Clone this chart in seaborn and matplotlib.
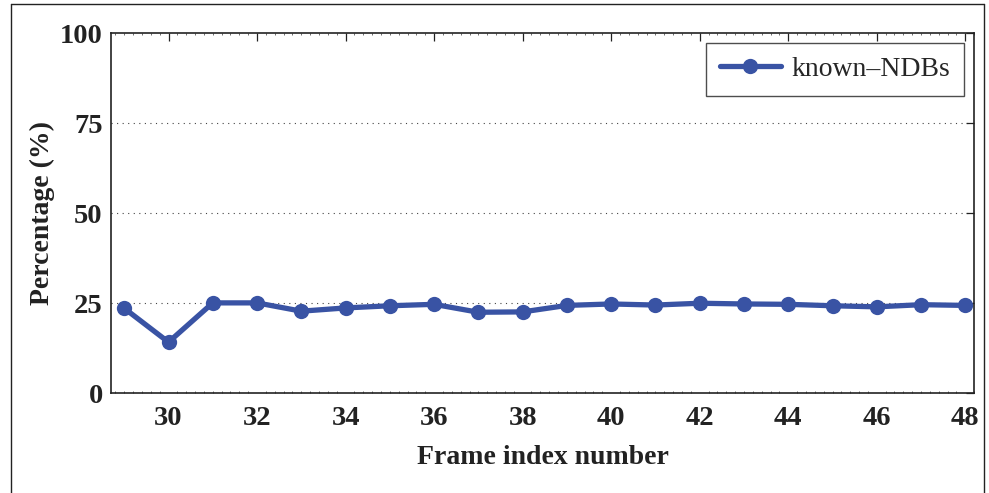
import matplotlib
matplotlib.use("Agg")
import matplotlib.pyplot as plt
import seaborn as sns
import pandas as pd
import numpy as np
from matplotlib.ticker import MultipleLocator

frames = list(range(29, 49))
known_ndbs = [23.6, 14.2, 25.1, 25.1, 22.8, 23.7, 24.3, 24.7, 22.5, 22.6,
              24.4, 24.8, 24.5, 25.0, 24.8, 24.7, 24.3, 24.0, 24.6, 24.4]
series_name = "known\u2013NDBs"
xticks = list(range(30, 49, 2))
yticks = [0, 25, 50, 75, 100]

sns.set_theme(style="white")
plt.rcParams['font.family'] = ['Liberation Serif', 'DejaVu Serif']

df = pd.DataFrame({"frame": frames, "pct": known_ndbs, "series": series_name})

fig = plt.figure(figsize=(9.89, 4.93), dpi=100)
ax = fig.add_axes([0.1122, 0.2022, 0.985 - 0.1122, 0.933 - 0.2022])

color = "#3953a4"
sns.lineplot(data=df, x="frame", y="pct", hue="series", palette=[color],
             marker="o", markersize=11, linewidth=3.8, markeredgewidth=0,
             ax=ax)

ax.set_xlim(28.7, 48.2)
ax.set_ylim(0, 100)
ax.set_xticks(xticks)
ax.set_yticks(yticks)
ax.xaxis.set_minor_locator(MultipleLocator(0.2))
ax.tick_params(which="major", direction="in", length=6, width=0.9,
               top=True, right=True, colors="#222222", labelcolor="#222222",
               labelsize=20.5)
ax.tick_params(axis="x", which="major", pad=9)
ax.tick_params(axis="y", which="major", pad=6)
ax.tick_params(which="minor", direction="in", length=1.5, width=0.6,
               top=True, right=False, bottom=True, colors="#555555")
for lab in ax.get_xticklabels() + ax.get_yticklabels():
    lab.set_fontweight("bold")

for y in [25, 50, 75]:
    ax.axhline(y, color="#444444", linestyle=(0, (1, 4)), linewidth=0.8, zorder=0)

for sp in ax.spines.values():
    sp.set_color("#222222")
    sp.set_linewidth(1.2)

ax.set_xlabel("Frame index number", fontsize=20, fontweight="bold", labelpad=10,
              color="#222222")
ax.set_ylabel("Percentage (%)", fontsize=20, fontweight="bold", labelpad=3.5,
              color="#222222")

leg = ax.legend(loc="upper right", fontsize=20, frameon=True, fancybox=False,
                edgecolor="#222222", borderpad=0.5, handlelength=2.2,
                handletextpad=0.4, borderaxespad=0.35)
leg.get_frame().set_linewidth(1.0)
leg.set_title(None)

# outer figure frame
fig.add_artist(plt.Line2D([0.0111, 0.0111], [0.0, 0.992], transform=fig.transFigure,
                          color="#222222", linewidth=1.0))
fig.add_artist(plt.Line2D([0.0111, 0.995], [0.992, 0.992], transform=fig.transFigure,
                          color="#222222", linewidth=1.0))
fig.add_artist(plt.Line2D([0.995, 0.995], [0.0, 0.992], transform=fig.transFigure,
                          color="#222222", linewidth=1.0))

fig.savefig("out.png", dpi=100)
